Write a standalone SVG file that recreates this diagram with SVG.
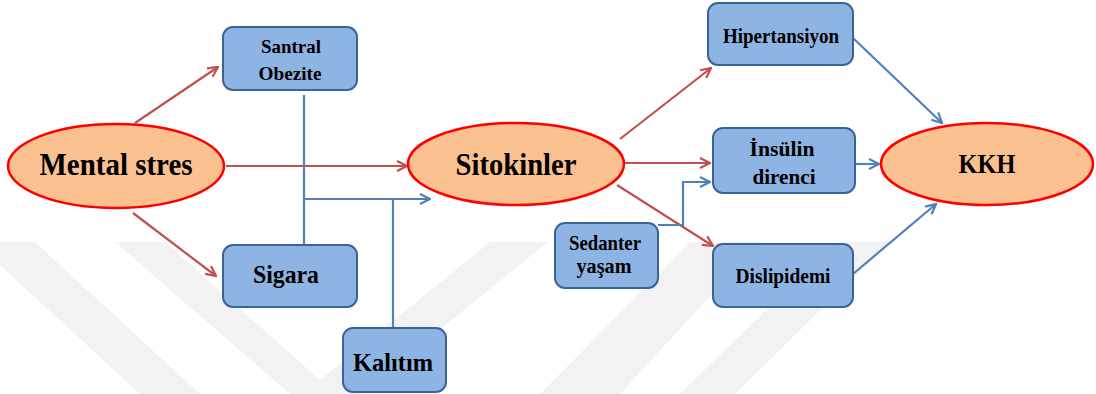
<svg xmlns="http://www.w3.org/2000/svg" width="1096" height="394" viewBox="0 0 1096 394">
<style>
.box{fill:#8EB4E3;stroke:#3B6496;stroke-width:2}
.ell{fill:#FAC090;stroke:#FF0000;stroke-width:2.5}
.t{font-family:"Liberation Serif","Times New Roman",serif;font-weight:bold;fill:#000;text-anchor:middle}
.red{fill:none;stroke:#C0504D;stroke-width:2.2}
.blue{fill:none;stroke:#4F81BD;stroke-width:2.2}
.wm{fill:#F2F2F2}
</style>
<defs>
<marker id="ar" viewBox="0 0 12 12" refX="11" refY="6" markerWidth="12" markerHeight="12" markerUnits="userSpaceOnUse" orient="auto">
<path d="M1,1 L11,6 L1,11" fill="none" stroke="#C0504D" stroke-width="2.2"/>
</marker>
<marker id="ab" viewBox="0 0 12 12" refX="11" refY="6" markerWidth="12" markerHeight="12" markerUnits="userSpaceOnUse" orient="auto">
<path d="M1,1 L11,6 L1,11" fill="none" stroke="#4F81BD" stroke-width="2.2"/>
</marker>
</defs>
<rect width="1096" height="394" fill="#FFFFFF"/>
<g id="watermark">
<polygon class="wm" points="0,242 35,242 200,394 140,394 0,265"/>
<polygon class="wm" points="115,242 165,242 320,380 490,242 548,242 360,394 290,394"/>
<polygon class="wm" points="540,394 620,394 760,242 690,242"/>
<polygon class="wm" points="680,394 735,394 890,242 835,242"/>
</g>
<g id="connectors">
<path class="red" d="M135,123 L218,67" marker-end="url(#ar)"/>
<path class="red" d="M133,213 L216,276" marker-end="url(#ar)"/>
<path class="red" d="M226,166 L407,166" marker-end="url(#ar)"/>
<path class="red" d="M620,139 L711,68" marker-end="url(#ar)"/>
<path class="red" d="M625,163 L710,163" marker-end="url(#ar)"/>
<path class="red" d="M617,185 L713,246" marker-end="url(#ar)"/>
<path class="blue" d="M304,95 L304,245"/>
<path class="blue" d="M304,199 L430,199" marker-end="url(#ab)"/>
<path class="blue" d="M393,199 L393,328"/>
<path class="blue" d="M658,225 L683,225 L683,182 L710,182" marker-end="url(#ab)"/>
<path class="blue" d="M853,38 L942,123" marker-end="url(#ab)"/>
<path class="blue" d="M855,164 L879,164" marker-end="url(#ab)"/>
<path class="blue" d="M853,274 L936,204" marker-end="url(#ab)"/>
</g>
<g id="mental-stres">
<ellipse class="ell" cx="116" cy="166" rx="108" ry="42"/>
<text class="t" x="116" y="175" font-size="31" textLength="153" lengthAdjust="spacingAndGlyphs">Mental stres</text>
</g>
<g id="sitokinler">
<ellipse class="ell" cx="516" cy="164" rx="108" ry="41"/>
<text class="t" x="516" y="175" font-size="31" textLength="121" lengthAdjust="spacingAndGlyphs">Sitokinler</text>
</g>
<g id="kkh">
<ellipse class="ell" cx="987" cy="164" rx="106" ry="41"/>
<text class="t" x="987" y="173" font-size="27" textLength="57" lengthAdjust="spacingAndGlyphs">KKH</text>
</g>
<g id="santral-obezite">
<rect class="box" x="223" y="27" width="134" height="63" rx="10"/>
<text class="t" x="291" y="53" font-size="19" textLength="60" lengthAdjust="spacingAndGlyphs">Santral</text>
<text class="t" x="290" y="80" font-size="19" textLength="63" lengthAdjust="spacingAndGlyphs">Obezite</text>
</g>
<g id="sigara">
<rect class="box" x="223" y="245" width="134" height="62" rx="10"/>
<text class="t" x="286" y="283" font-size="26" textLength="66" lengthAdjust="spacingAndGlyphs">Sigara</text>
</g>
<g id="kalitim">
<rect class="box" x="343" y="328" width="103" height="64" rx="10"/>
<text class="t" x="393" y="371" font-size="26" textLength="80" lengthAdjust="spacingAndGlyphs">Kalıtım</text>
</g>
<g id="hipertansiyon">
<rect class="box" x="708" y="3" width="145" height="62" rx="10"/>
<text class="t" x="781" y="43" font-size="20" textLength="116" lengthAdjust="spacingAndGlyphs">Hipertansiyon</text>
</g>
<g id="insulin-direnci">
<rect class="box" x="713" y="128" width="142" height="65" rx="10"/>
<text class="t" x="782" y="156" font-size="22" textLength="65" lengthAdjust="spacingAndGlyphs">İnsülin</text>
<text class="t" x="784" y="184" font-size="22" textLength="63" lengthAdjust="spacingAndGlyphs">direnci</text>
</g>
<g id="dislipidemi">
<rect class="box" x="713" y="244" width="140" height="63" rx="10"/>
<text class="t" x="783" y="283" font-size="20" textLength="95" lengthAdjust="spacingAndGlyphs">Dislipidemi</text>
</g>
<g id="sedanter-yasam">
<rect class="box" x="555" y="223" width="103" height="65" rx="10"/>
<text class="t" x="605" y="250" font-size="21" textLength="72" lengthAdjust="spacingAndGlyphs">Sedanter</text>
<text class="t" x="604" y="273" font-size="21" textLength="55" lengthAdjust="spacingAndGlyphs">yaşam</text>
</g>
</svg>
